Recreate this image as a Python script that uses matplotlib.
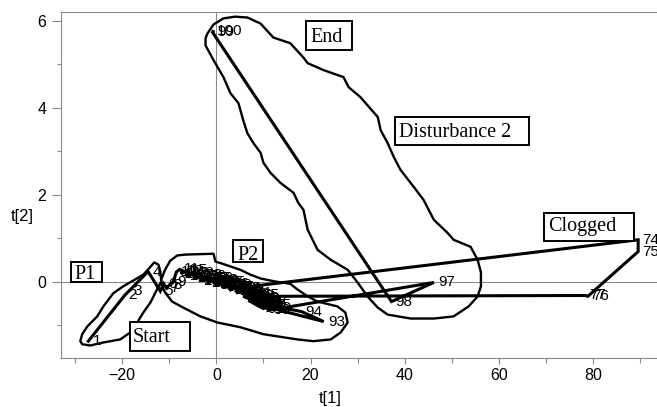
import matplotlib
matplotlib.use('Agg')
import matplotlib.pyplot as plt
from matplotlib.ticker import MultipleLocator
from matplotlib.patches import Polygon, Rectangle

# ---- data: score trajectory (observation number, t[1], t[2]) ----
obs = list(range(1, 101))
t1 = [-27.2, -19.5, -18.6, -14.5, -11.9, -11.2, -10.6, -10.0, -9.2, -8.5,
      -7.8, -7.2, -7.5, -6.8, -6.2, -5.9, -6.5, -5.4, -4.8, -4.3,
      -5.0, -3.9, -3.3, -2.8, -3.6, -2.2, -1.6, -1.1, -2.0, -0.6,
      0.0, 0.5, -0.3, 1.0, 1.6, 2.1, 1.3, 2.6, 3.1, 3.5,
      2.8, 4.0, 4.5, 5.0, 4.2, 5.5, 6.0, 6.4, 5.7, 6.9,
      7.4, 7.8, 7.1, 8.3, 8.8, 9.2, 8.5, 9.6, 9.0, 8.0,
      7.0, 6.2, 5.2, 4.4, 3.6, 2.4, 1.2, 0.2, -1.0, -2.5,
      -0.2, 2.0, 5.1, 89.6, 89.6, 78.9, 78.4, 5.7, 6.6, 7.5,
      8.4, 9.3, 8.7, 9.8, 10.3, 9.5, 10.6, 7.9, 6.8, 8.9,
      10.0, 10.6, 22.8, 18.1, 11.5, 11.1, 46.2, 37.2, -0.8, -0.7]
t2 = [-1.37, -0.32, -0.22, 0.23, -0.22, -0.05, -0.15, -0.08, -0.02, 0.22,
      0.28, 0.25, 0.18, 0.22, 0.26, 0.19, 0.12, 0.15, 0.20, 0.12,
      0.08, 0.10, 0.14, 0.06, 0.02, 0.05, 0.08, 0.00, -0.03, 0.02,
      -0.04, 0.01, -0.08, -0.06, -0.02, -0.09, -0.13, -0.12, -0.08, -0.16,
      -0.20, -0.14, -0.21, -0.17, -0.26, -0.24, -0.20, -0.28, -0.32, -0.30,
      -0.26, -0.34, -0.38, -0.36, -0.32, -0.40, -0.44, -0.45, -0.50, -0.42,
      -0.35, -0.30, -0.25, -0.19, -0.12, -0.05, -0.01, 0.04, 0.08, 0.12,
      -0.02, -0.08, -0.14, 0.96, 0.69, -0.34, -0.32, -0.34, -0.38, -0.42,
      -0.40, -0.46, -0.52, -0.50, -0.55, -0.58, -0.48, -0.47, -0.43, -0.56,
      -0.62, -0.58, -0.92, -0.69, -0.55, -0.66, -0.02, -0.46, 5.73, 5.75]

# ---- hand-drawn region outlines (t[1], t[2]) ----
p1_t1 = [-28.9, -28.5, -27.4, -25.3, -24.0, -21.9, -19.8, -17.7, -15.5, -14.0,
         -13.2, -12.3, -11.9, -11.7, -12.6, -14.0, -15.5, -16.8, -18.3, -20.4,
         -24.0, -26.8, -28.5]
p1_t2 = [-1.37, -1.21, -1.03, -0.80, -0.57, -0.27, -0.11, 0.02, 0.16, 0.34,
         0.44, 0.39, 0.23, 0.00, -0.18, -0.48, -0.71, -0.94, -1.17, -1.33,
         -1.40, -1.47, -1.44]

p2_t1 = [-11.7, -10.9, -9.8, -8.3, -6.6, -0.6, -0.2, 1.3, 5.1, 7.2,
         9.4, 12.6, 15.7, 17.2, 19.4, 21.5, 25.7, 27.4, 27.9, 26.4,
         24.3, 20.6, 17.2, 10.0, 5.1, 0.2, -3.4, -7.0, -9.4, -10.9, -11.7]
p2_t2 = [0.05, 0.27, 0.48, 0.60, 0.62, 0.64, 0.46, 0.41, 0.27, 0.16,
         0.07, 0.00, -0.05, -0.18, -0.34, -0.46, -0.57, -0.71, -0.94, -1.17,
         -1.33, -1.37, -1.33, -1.21, -1.05, -0.94, -0.80, -0.60, -0.46, -0.25, -0.07]

d2_t1 = [-1.9, -0.6, 1.5, 4.0, 6.6, 9.4, 12.1, 15.7, 18.5, 19.4,
         22.8, 27.0, 28.1, 30.6, 34.3, 34.9, 36.4, 37.7, 39.1, 41.9,
         44.0, 46.2, 49.1, 50.4, 54.0, 55.5, 56.2, 56.2, 55.5, 53.6,
         50.4, 46.2, 41.3, 36.4, 34.3, 32.1, 30.0, 27.9, 24.3, 21.5,
         19.4, 18.5, 17.4, 16.4, 13.6, 11.5, 10.0, 9.4, 7.9, 6.6,
         5.7, 4.7, 3.0, 1.5, -0.6, -2.3, -2.3]
d2_t2 = [5.70, 5.91, 6.05, 6.09, 6.07, 5.93, 5.61, 5.48, 5.15, 5.02,
         4.86, 4.70, 4.47, 4.24, 3.78, 3.48, 3.18, 2.86, 2.57, 2.18,
         1.88, 1.42, 1.12, 0.96, 0.80, 0.50, 0.21, -0.11, -0.34, -0.57,
         -0.80, -0.85, -0.85, -0.76, -0.60, -0.34, -0.02, 0.27, 0.50, 0.73,
         1.19, 1.65, 1.81, 2.04, 2.27, 2.50, 2.73, 2.96, 3.18, 3.41,
         3.71, 4.10, 4.33, 4.70, 5.09, 5.43, 5.59]

# ---- boxed annotations: text, text anchor (left, baseline), box extent ----
box_texts = ['P1', 'Start', 'P2', 'End', 'Disturbance 2', 'Clogged']
box_tx = [-30.2, -17.7, 4.5, 20.0, 38.7, 70.4]
box_ty = [0.05, -1.40, 0.50, 5.50, 3.32, 1.17]
box_x0 = [-30.9, -18.3, 3.6, 19.1, 37.9, 69.6]
box_x1 = [-24.3, -5.5, 10.0, 28.9, 66.4, 88.7]
box_y0 = [-0.02, -1.60, 0.46, 5.32, 3.14, 0.94]
box_y1 = [0.44, -0.94, 0.96, 5.98, 3.78, 1.58]

fig = plt.figure(figsize=(6.57, 4.07), dpi=100)
ax = fig.add_axes([61 / 657, 1 - 357.7 / 407, (657 - 61) / 657, (357.7 - 12.3) / 407])
ax.set_xlim(-33.0, 93.6)
ax.set_ylim(-1.75, 6.19)

grey = '#8a8a8a'
ax.axhline(0, color=grey, lw=0.8, zorder=1)
ax.axvline(0, color=grey, lw=0.8, zorder=1)

for xs, ys in [(p1_t1, p1_t2), (p2_t1, p2_t2), (d2_t1, d2_t2)]:
    ax.add_patch(Polygon(list(zip(xs, ys)), closed=True, fill=False,
                         edgecolor='black', lw=1.7, joinstyle='round', zorder=2))

ax.plot(t1, t2, color='black', lw=2.2, solid_joinstyle='miter', zorder=3)
for n, x, y in zip(obs, t1, t2):
    ax.annotate(str(n), (x, y), xytext=(3, 0), textcoords='offset points',
                ha='left', va='center', fontsize=11, family='Liberation Sans',
                color='black', zorder=4, annotation_clip=False)

for s, tx, ty, x0, x1, y0, y1 in zip(box_texts, box_tx, box_ty, box_x0, box_x1, box_y0, box_y1):
    ax.add_patch(Rectangle((x0, y0), x1 - x0, y1 - y0, facecolor='white',
                           edgecolor='black', lw=1.4, zorder=5))
    ax.text(tx, ty, s, ha='left', va='baseline', fontsize=14.5,
            family='Liberation Serif', zorder=6)

ax.xaxis.set_major_locator(MultipleLocator(20))
ax.xaxis.set_minor_locator(MultipleLocator(10))
ax.yaxis.set_major_locator(MultipleLocator(2))
ax.yaxis.set_minor_locator(MultipleLocator(1))
ax.tick_params(axis='x', which='major', length=4.5, width=0.8, color=grey, pad=3,
               labelsize=11.5)
ax.tick_params(axis='x', which='minor', length=3.5, width=0.8, color=grey)
ax.tick_params(axis='y', which='major', length=6.5, width=0.8, color=grey, pad=4,
               labelsize=11.5)
ax.tick_params(axis='y', which='minor', length=3, width=0.8, color=grey)
for lab in ax.get_xticklabels() + ax.get_yticklabels():
    lab.set_family('Liberation Sans')

for side in ['left', 'bottom', 'top']:
    ax.spines[side].set_color(grey)
    ax.spines[side].set_linewidth(0.8)
ax.spines['right'].set_visible(False)

ax.set_xlabel('t[1]', fontsize=12, family='Liberation Sans', va='center')
ax.xaxis.set_label_coords((330 - 61) / 596, (357.7 - 398) / 345.4)
ax.set_ylabel('t[2]', fontsize=12, family='Liberation Sans', rotation=0,
              va='center', ha='center')
ax.yaxis.set_label_coords((22 - 61) / 596, (357.7 - 217) / 345.4)

fig.savefig('out.png', dpi=100)
